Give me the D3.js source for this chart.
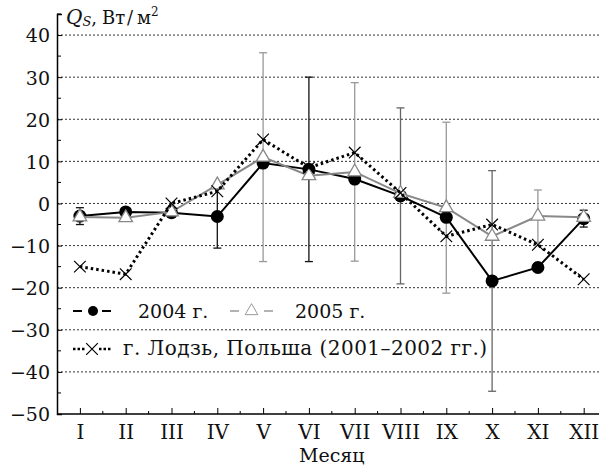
<!DOCTYPE html>
<html>
<head>
<meta charset="utf-8">
<script src="https://cdn.jsdelivr.net/npm/d3@7"></script>
<style>
  body { margin: 0; background: #fff; }
  svg text { font-family: "DejaVu Serif", serif; fill: #111; }
</style>
</head>
<body>
<svg id="chart" width="599" height="465"></svg>
<script>
const months = ["I", "II", "III", "IV", "V", "VI", "VII", "VIII", "IX", "X", "XI", "XII"];
const q2004 = [-3, -2, -2.2, -3.1, 9.6, 8.1, 5.8, 1.8, -3.3, -18.4, -15.2, -3.6];
const q2005 = [-3.2, -3.4, -2, 4.4, 11, 6.6, 7.5, 2.4, -1, -7.8, -3, -3.3];
const lodz = [-15, -16.8, 0, 2.9, 15.2, 8.5, 12.1, 2.5, -7.8, -5, -9.8, -18];
// error half-widths, 0 = no bar
const err2004 = [2, 0, 0, 7.5, 0, 21.9, 0, 20.9, 0, 26.2, 0, 2];
const err2005 = [0, 0, 0, 0, 24.8, 0, 21.2, 0, 20.3, 0, 6.2, 0];
const yTicks = [-50, -40, -30, -20, -10, 0, 10, 20, 30, 40];

const svg = d3.select("#chart");
const width = +svg.attr("width");
const height = +svg.attr("height");

const x = d3.scaleLinear().domain([0.5, 12.5]).range([57, 606.6]);
const y = d3.scaleLinear().domain([-50, 45]).range([414, 14]);

const minus = v => v < 0 ? "\u2212" + Math.abs(v) : String(v);

// gridlines
svg.append("g")
    .selectAll("line")
    .data(yTicks.filter(d => d > -50))
    .join("line")
    .attr("x1", x(0.5)).attr("x2", width)
    .attr("y1", d => y(d)).attr("y2", d => y(d))
    .attr("stroke", "#333")
    .attr("stroke-width", 1)
    .attr("stroke-dasharray", "2,2");

// y axis
const yAxis = svg.append("g")
    .attr("transform", `translate(${x(0.5)},0)`)
    .call(d3.axisLeft(y).tickValues(yTicks).tickSize(-5).tickPadding(7).tickFormat(minus));
yAxis.selectAll("text").style("font-size", "19px").attr("dy", "0.36em");
yAxis.append("g")
    .selectAll("line")
    .data(d3.range(-45, 50, 10))
    .join("line")
    .attr("x1", 0).attr("x2", 4)
    .attr("y1", d => y(d)).attr("y2", d => y(d))
    .attr("stroke", "#000");

// x axis
const xAxis = svg.append("g")
    .attr("transform", `translate(0,${y(-50)})`)
    .call(d3.axisBottom(x).tickValues(d3.range(1, 13)).tickSize(-6).tickPadding(0)
        .tickFormat(d => months[d - 1]));
xAxis.select(".domain").attr("d", `M${x(0.5)},0H${width}`);
xAxis.selectAll("text").style("font-size", "20px").attr("y", 25).attr("dy", 0);
xAxis.append("g")
    .selectAll("line")
    .data(d3.range(1.5, 12.5, 1))
    .join("line")
    .attr("x1", d => x(d)).attr("x2", d => x(d))
    .attr("y1", 0).attr("y2", -3)
    .attr("stroke", "#000");
svg.selectAll(".domain").attr("stroke-width", 1.5);

svg.append("text")
    .attr("x", (x(0.5) + x(12.5)) / 2)
    .attr("y", 462)
    .attr("text-anchor", "middle")
    .style("font-size", "19px")
    .text("Месяц");

// axis title
const title = svg.append("text").attr("y", 24).style("font-size", "18px");
title.append("tspan").attr("x", 66).style("font-style", "italic").style("font-size", "20px").text("Q");
title.append("tspan").style("font-style", "italic").style("font-size", "13px").attr("dy", 2).text("S");
title.append("tspan").attr("dy", -2).text(",");
title.append("tspan").attr("x", 102).text("Вт");
title.append("tspan").attr("x", 127).text("/");
title.append("tspan").attr("x", 137).text("м");
title.append("tspan").style("font-size", "12px").attr("dy", -8).text("2");

// error bars
function errorBars(values, errs, color) {
    const idx = d3.range(12).filter(i => errs[i] > 0);
    const g = svg.append("g").attr("stroke-width", 1.3);
    idx.forEach(i => {
        const c = typeof color === "function" ? color(i) : color;
        const cx = x(i + 1);
        const top = y(values[i] + errs[i]);
        const bot = y(values[i] - errs[i]);
        g.append("line").attr("x1", cx).attr("x2", cx).attr("y1", top).attr("y2", bot).attr("stroke", c);
        [top, bot].forEach(yy => g.append("line")
            .attr("x1", cx - 4).attr("x2", cx + 4).attr("y1", yy).attr("y2", yy).attr("stroke", c));
    });
}
errorBars(q2004, err2004, i => (i === 7 || i === 9) ? "#666" : "#111");
errorBars(q2005, err2005, "#999");

const line = d3.line().x((d, i) => x(i + 1)).y(d => y(d));

// 2004
svg.append("path").datum(q2004).attr("d", line)
    .attr("fill", "none").attr("stroke", "#000").attr("stroke-width", 2);
svg.append("g").selectAll("circle").data(q2004).join("circle")
    .attr("cx", (d, i) => x(i + 1)).attr("cy", d => y(d)).attr("r", 6.5).attr("fill", "#000");

// 2005
const tri = d3.symbol().type(d3.symbolTriangle).size(80);
svg.append("path").datum(q2005).attr("d", line)
    .attr("fill", "none").attr("stroke", "#888").attr("stroke-width", 2);
svg.append("g").selectAll("path").data(q2005).join("path")
    .attr("transform", (d, i) => `translate(${x(i + 1)},${y(d)})`)
    .attr("d", tri).attr("fill", "#fff").attr("stroke", "#888").attr("stroke-width", 1.3);

// Lodz
svg.append("path").datum(lodz).attr("d", line)
    .attr("fill", "none").attr("stroke", "#000").attr("stroke-width", 3)
    .attr("stroke-dasharray", "2.5,3");
const cross = d3.symbol().type(d3.symbolX).size(90);
svg.append("g").selectAll("path").data(lodz).join("path")
    .attr("transform", (d, i) => `translate(${x(i + 1)},${y(d)})`)
    .attr("d", cross).attr("fill", "none").attr("stroke", "#000").attr("stroke-width", 1.2);

// legend
const legend = svg.append("g");
const row1 = 311, row2 = 348;
legend.append("line").attr("x1", 73).attr("x2", 82).attr("y1", row1).attr("y2", row1).attr("stroke", "#000").attr("stroke-width", 2);
legend.append("line").attr("x1", 102).attr("x2", 111).attr("y1", row1).attr("y2", row1).attr("stroke", "#000").attr("stroke-width", 2);
legend.append("circle").attr("cx", 93).attr("cy", row1).attr("r", 5).attr("fill", "#000");
legend.append("text").attr("x", 138).attr("y", row1).attr("dy", "0.35em").style("font-size", "19px").text("2004 г.");

legend.append("line").attr("x1", 230).attr("x2", 239).attr("y1", row1).attr("y2", row1).attr("stroke", "#999").attr("stroke-width", 1.5);
legend.append("line").attr("x1", 264).attr("x2", 273).attr("y1", row1).attr("y2", row1).attr("stroke", "#999").attr("stroke-width", 1.5);
legend.append("path").attr("transform", `translate(251.5,${row1})`)
    .attr("d", d3.symbol().type(d3.symbolTriangle).size(70)).attr("fill", "#fff").attr("stroke", "#999");
legend.append("text").attr("x", 295).attr("y", row1).attr("dy", "0.35em").style("font-size", "19px").text("2005 г.");

legend.append("line").attr("x1", 73).attr("x2", 85).attr("y1", row2 + 1).attr("y2", row2 + 1).attr("stroke", "#000").attr("stroke-width", 2.5).attr("stroke-dasharray", "2.5,2");
legend.append("line").attr("x1", 99).attr("x2", 111).attr("y1", row2 + 1).attr("y2", row2 + 1).attr("stroke", "#000").attr("stroke-width", 2.5).attr("stroke-dasharray", "2.5,2");
legend.append("path").attr("transform", `translate(92,${row2 + 1})`)
    .attr("d", cross).attr("fill", "none").attr("stroke", "#000").attr("stroke-width", 1.2);
legend.append("text").attr("x", 123).attr("y", row2).attr("dy", "0.35em").style("font-size", "20px")
    .attr("textLength", 364).attr("lengthAdjust", "spacing")
    .text("г. Лодзь, Польша (2001–2002 гг.)");
</script>
</body>
</html>
